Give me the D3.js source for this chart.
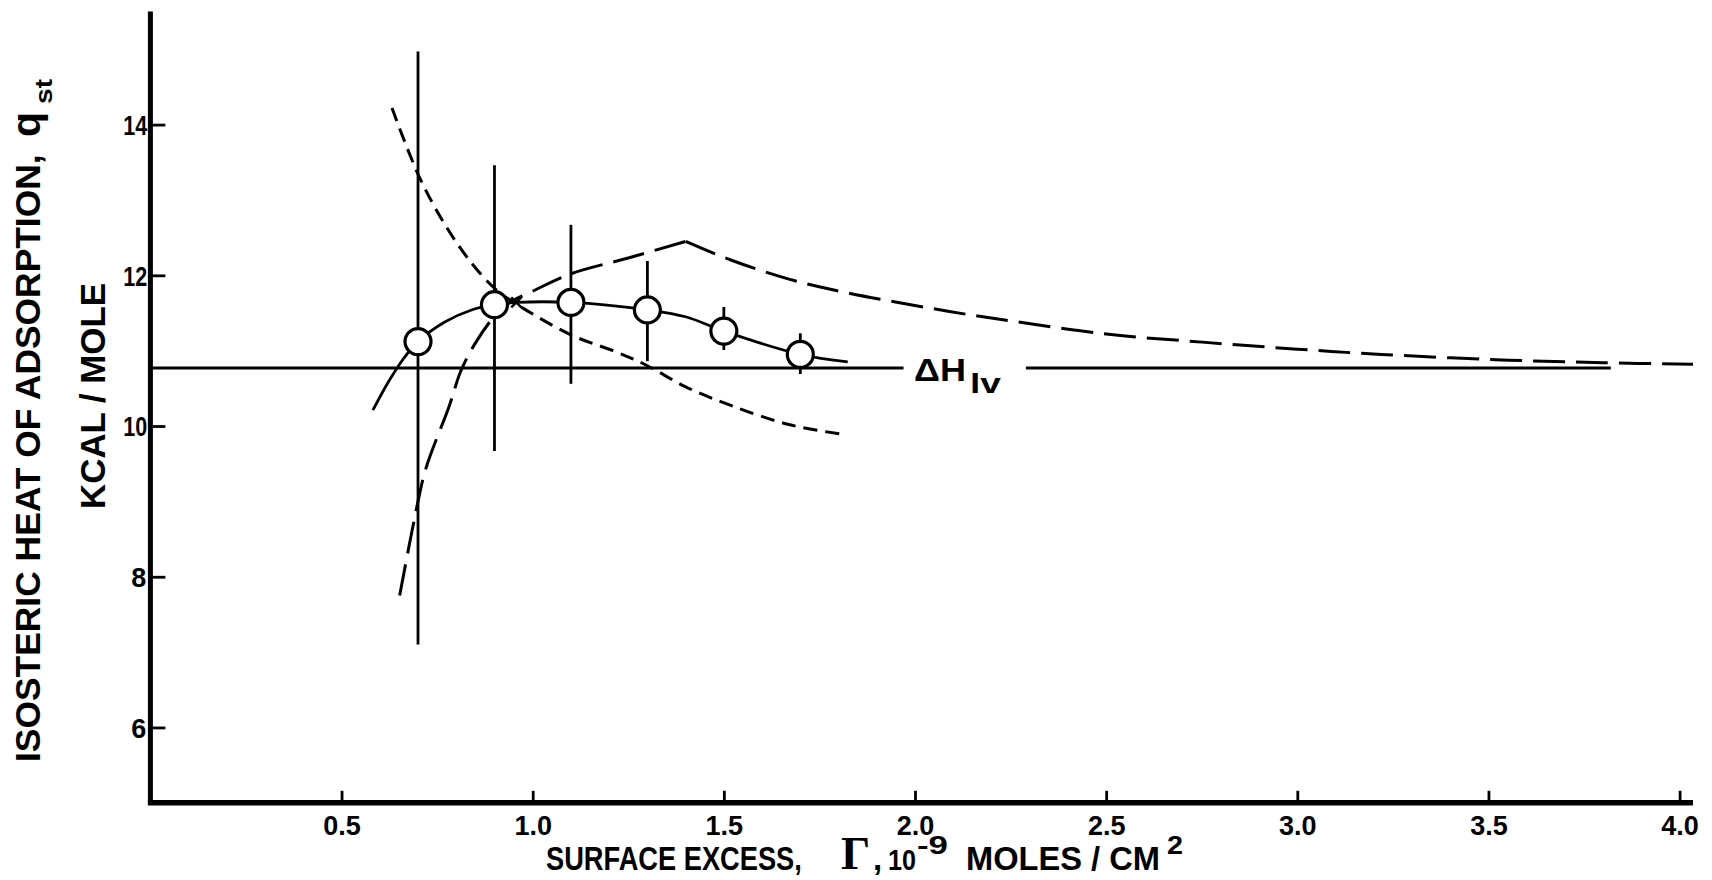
<!DOCTYPE html>
<html>
<head>
<meta charset="utf-8">
<script src="https://cdn.jsdelivr.net/npm/d3@7"></script>
<style>
  body { margin: 0; background: #fff; }
  text { font-family: "Liberation Sans", Arial, sans-serif; font-weight: bold; fill: #000; }
</style>
</head>
<body>
<div id="chart"></div>
<script>
// axis ticks
const xTicks = [0.5, 1.0, 1.5, 2.0, 2.5, 3.0, 3.5, 4.0];
const yTicks = [6, 8, 10, 12, 14];

// measured points with error bars
const gammaPts = [0.7, 0.9, 1.1, 1.3, 1.5, 1.7];
const qPts = [11.12, 11.61, 11.64, 11.54, 11.26, 10.95];
const errLow = [7.10, 9.67, 10.56, 10.86, 11.01, 10.69];
const errHigh = [14.97, 13.46, 12.67, 12.19, 11.58, 11.23];

// solid curve through the points
const solidCurve = [[0.582, 10.21], [0.622, 10.58], [0.66, 10.88], [0.7, 11.12], [0.77, 11.38],
  [0.84, 11.54], [0.9, 11.61], [0.957, 11.64], [1.1, 11.64], [1.3, 11.54], [1.4, 11.45],
  [1.5, 11.26], [1.7, 10.95], [1.824, 10.85]];

// short dashed curve (falling)
const shortDash = [[0.632, 14.22], [0.702, 13.32], [0.772, 12.66], [0.842, 12.15], [0.902, 11.82],
  [0.957, 11.62], [1.10, 11.21], [1.22, 10.98], [1.30, 10.80], [1.40, 10.52], [1.52, 10.27],
  [1.67, 10.02], [1.81, 9.89]];

// long dashed curve, rising branch and falling branch (cusp at 1.4)
const longDashUp = [[0.652, 7.75], [0.70, 9.0], [0.722, 9.46], [0.782, 10.27], [0.812, 10.73],
  [0.85, 11.1], [0.902, 11.47], [0.94, 11.64], [1.0, 11.79], [1.1, 12.02], [1.25, 12.23], [1.40, 12.45]];
const longDashDown = [[1.40, 12.45], [1.52, 12.2], [1.67, 11.95], [1.82, 11.77], [2.09, 11.52],
  [2.23, 11.41], [2.5, 11.22], [2.76, 11.11], [3.0, 11.02], [3.22, 10.95], [3.52, 10.88],
  [3.80, 10.84], [4.035, 10.82]];

// heat of vaporization line
const dhValue = 10.77;
const dhSegments = [[0, 1.97], [2.29, 3.82]];
const crossPt = [0.957, 11.64];

const W = 1712, H = 880;
const svg = d3.select("#chart").append("svg")
    .attr("width", W)
    .attr("height", H);

const x = d3.scaleLinear().domain([0, 4]).range([150.4, 1679.6]);
const y = d3.scaleLinear().domain([5, 14]).range([802.8, 124.6]);

// squeeze a text horizontally to a given width (lettering in the original is narrow)
function squeeze(sel, width) {
    return width / sel.node().getComputedTextLength();
}

// text placed at (tx,ty), optionally rotated, squeezed to width
function label(str, tx, ty, size, width, opts = {}) {
    const t = svg.append("text")
        .style("font-size", size + "px")
        .attr("text-anchor", opts.anchor || "start")
        .text(str);
    if (opts.family) t.style("font-family", opts.family);
    const s = width ? squeeze(t, width) : 1;
    const rot = opts.rotate ? " rotate(-90)" : "";
    t.attr("transform", `translate(${tx},${ty})${rot} scale(${s},1)`);
    return t;
}

// axes
const xAxis = svg.append("g")
    .attr("transform", `translate(0,${y(5)})`)
    .call(d3.axisBottom(x).tickValues(xTicks).tickSize(-12).tickSizeOuter(0).tickPadding(13)
        .tickFormat(d3.format(".1f")));
const yAxis = svg.append("g")
    .attr("transform", `translate(${x(0)},0)`)
    .call(d3.axisLeft(y).tickValues(yTicks).tickSize(-15).tickSizeOuter(0).tickPadding(4));

[xAxis, yAxis].forEach(g => {
    g.select(".domain").remove();
    g.selectAll(".tick line").attr("stroke", "#000").attr("stroke-width", 2.8);
    g.selectAll(".tick text").style("font-size", "27px").attr("fill", "#000");
});
yAxis.selectAll(".tick text")
    .attr("dy", "0.36em")
    .filter(d => d >= 10)
    .attr("transform", function () { return `scale(${squeeze(d3.select(this), 24)},1)`; });

// thick axis lines
svg.append("line")
    .attr("x1", x(0)).attr("x2", x(0))
    .attr("y1", y(5) + 2).attr("y2", y(15.5))
    .attr("stroke", "#000").attr("stroke-width", 5);
svg.append("line")
    .attr("x1", x(0) - 2.5).attr("x2", x(4.035))
    .attr("y1", y(5)).attr("y2", y(5))
    .attr("stroke", "#000").attr("stroke-width", 5.5);

const line = d3.line()
    .x(d => x(d[0]))
    .y(d => y(d[1]))
    .curve(d3.curveCatmullRom.alpha(0.5));

// ΔH line
svg.selectAll(".dh")
    .data(dhSegments)
    .enter().append("line")
    .attr("x1", d => x(d[0])).attr("x2", d => x(d[1]))
    .attr("y1", y(dhValue)).attr("y2", y(dhValue))
    .attr("stroke", "#000").attr("stroke-width", 2.8);

// curves
svg.append("path")
    .attr("d", line(shortDash))
    .attr("fill", "none").attr("stroke", "#000").attr("stroke-width", 3)
    .attr("stroke-dasharray", "14 8");
[longDashUp, longDashDown].forEach(c => {
    svg.append("path")
        .attr("d", line(c))
        .attr("fill", "none").attr("stroke", "#000").attr("stroke-width", 3)
        .attr("stroke-dasharray", "32 11");
});
svg.append("path")
    .attr("d", line(solidCurve))
    .attr("fill", "none").attr("stroke", "#000").attr("stroke-width", 2.8);

// cross mark where curves meet
svg.append("path")
    .attr("d", `M${x(crossPt[0]) - 5},${y(crossPt[1]) - 5}L${x(crossPt[0]) + 5},${y(crossPt[1]) + 5}` +
               `M${x(crossPt[0]) - 5},${y(crossPt[1]) + 5}L${x(crossPt[0]) + 5},${y(crossPt[1]) - 5}`)
    .attr("stroke", "#000").attr("stroke-width", 2.6);

// error bars
svg.selectAll(".err")
    .data(gammaPts)
    .enter().append("line")
    .attr("x1", d => x(d)).attr("x2", d => x(d))
    .attr("y1", (d, i) => y(errLow[i])).attr("y2", (d, i) => y(errHigh[i]))
    .attr("stroke", "#000").attr("stroke-width", 2.8);

// points
svg.selectAll(".pt")
    .data(gammaPts)
    .enter().append("circle")
    .attr("cx", d => x(d))
    .attr("cy", (d, i) => y(qPts[i]))
    .attr("r", 13)
    .attr("fill", "#fff").attr("stroke", "#000").attr("stroke-width", 3.2);

// ΔH label
label("ΔH", 914, y(dhValue) + 13, 31, 52);
label("lv", 970, y(dhValue) + 25, 27, 31);

// x axis title
label("SURFACE  EXCESS,", 546, 870, 33, 256);
label("Γ", 841, 869, 46, null, { family: "'Liberation Serif', serif" });
label(",", 873, 870, 33, null);
label("10", 888, 870, 30, 28);
label("-9", 917, 854, 25, 31);
label("MOLES / CM", 966, 870, 33, 194);
label("2", 1167, 854, 25, 16);

// y axis title
label("ISOSTERIC HEAT OF  ADSORPTION,", 40, 762, 35, 608, { rotate: true });
label("q", 40, 137, 40, 25, { rotate: true });
label("st", 52, 104, 24, 25, { rotate: true });
label("KCAL / MOLE", 105, 396, 35, 226, { rotate: true, anchor: "middle" });
</script>
</body>
</html>
